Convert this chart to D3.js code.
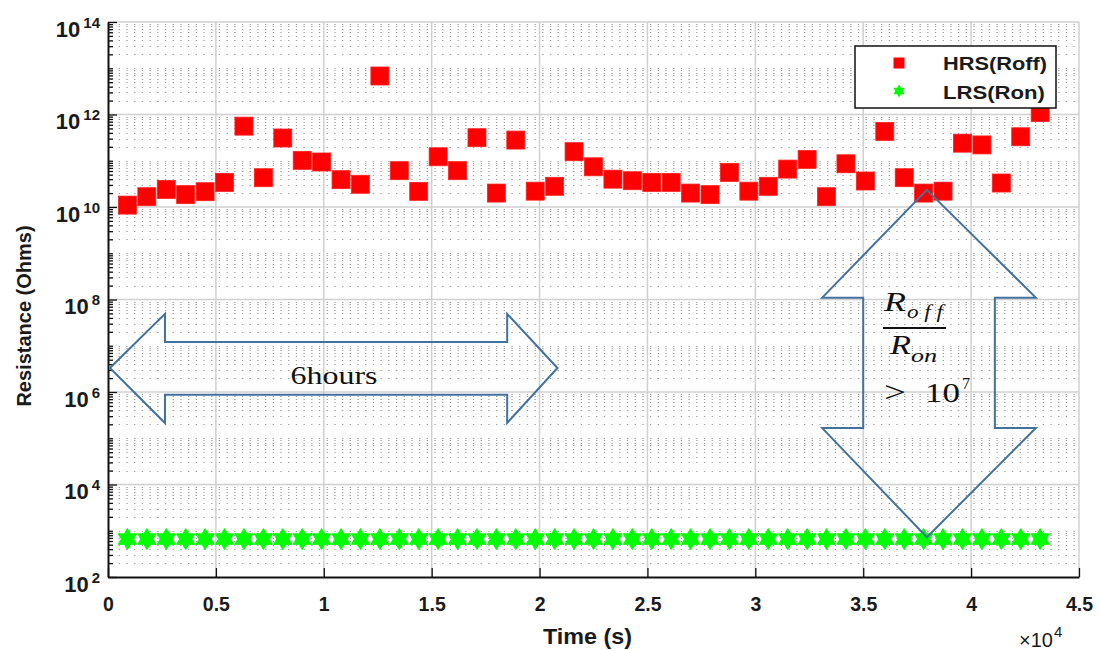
<!DOCTYPE html>
<html>
<head>
<meta charset="utf-8">
<script src="https://cdn.jsdelivr.net/npm/d3@7"></script>
<style>
  body { margin: 0; background: #fff; }
  svg { display: block; }
</style>
</head>
<body>
<svg></svg>
<script>
// time of each read-out (s)
const times = [900, 1800, 2700, 3600, 4500, 5400, 6300, 7200, 8100, 9000, 9900, 10800,
  11700, 12600, 13500, 14400, 15300, 16200, 17100, 18000, 18900, 19800, 20700, 21600,
  22500, 23400, 24300, 25200, 26100, 27000, 27900, 28800, 29700, 30600, 31500, 32400,
  33300, 34200, 35100, 36000, 36900, 37800, 38700, 39600, 40500, 41400, 42300, 43200];

// HRS (Roff) resistance, Ohms
const hrs = [1.1e10, 1.67e10, 2.4e10, 1.85e10, 2.14e10, 3.4e10, 5.6e11, 4.3e10, 3.1e11, 1.02e11, 9.4e10, 3.9e10,
  3.1e10, 6.8e12, 6.1e10, 2.18e10, 1.22e11, 6.1e10, 3.15e11, 2.0e10, 2.8e11, 2.2e10, 2.8e10, 1.57e11,
  7.4e10, 4.0e10, 3.7e10, 3.4e10, 3.4e10, 2.0e10, 1.85e10, 5.6e10, 2.2e10, 2.8e10, 6.6e10, 1.07e11,
  1.67e10, 8.6e10, 3.65e10, 4.3e11, 4.3e10, 2.0e10, 2.2e10, 2.4e11, 2.2e11, 3.3e10, 3.3e11, 1.1e12];

// LRS (Ron) resistance, Ohms
const lrs = [660, 660, 660, 660, 660, 660, 660, 660, 660, 660, 660, 660,
  660, 660, 660, 660, 660, 660, 660, 660, 660, 660, 660, 660,
  660, 660, 660, 660, 660, 660, 660, 660, 660, 660, 660, 660,
  660, 660, 660, 660, 660, 660, 660, 660, 660, 660, 660, 660];

const seriesNames = ["HRS(Roff)", "LRS(Ron)"];

const xTicks = [0, 5000, 10000, 15000, 20000, 25000, 30000, 35000, 40000, 45000];
const xTickLabels = ["0", "0.5", "1", "1.5", "2", "2.5", "3", "3.5", "4", "4.5"];
const yTicks = [1e2, 1e4, 1e6, 1e8, 1e10, 1e12, 1e14];
const yTickExps = ["2", "4", "6", "8", "10", "12", "14"];

const width = 1100;
const height = 650;
const margin = { top: 22, right: 21, bottom: 73, left: 108 };

const svg = d3.select("svg").attr("width", width).attr("height", height);

const xScale = d3.scaleLinear()
  .domain([0, 45000])
  .range([margin.left, width - margin.right]);

const yScale = d3.scaleLog()
  .domain([1e2, 1e14])
  .range([height - margin.bottom, margin.top]);

// minor log positions: 2..9 x 10^n, plus the odd decades
const minorY = [];
for (let n = 2; n < 14; n++) {
  for (let k = 1; k < 10; k++) {
    if (k === 1 && n % 2 === 0) continue;
    minorY.push(k * Math.pow(10, n));
  }
}

// grid
const grid = svg.append("g");
grid.selectAll(".minor")
  .data(minorY)
  .enter()
  .append("line")
  .attr("x1", xScale(0) + 3)
  .attr("x2", xScale(45000))
  .attr("y1", (d) => Math.round(yScale(d)) + 0.5)
  .attr("y2", (d) => Math.round(yScale(d)) + 0.5)
  .attr("stroke", "#9c9c9c")
  .attr("stroke-width", 1)
  .attr("stroke-dasharray", "1.3,6.4");

grid.selectAll(".hmaj")
  .data(yTicks.slice(1))
  .enter()
  .append("line")
  .attr("x1", xScale(0))
  .attr("x2", xScale(45000))
  .attr("y1", (d) => yScale(d))
  .attr("y2", (d) => yScale(d))
  .attr("stroke", "#d0d0d0")
  .attr("stroke-width", 1.5);

grid.selectAll(".vmaj")
  .data(xTicks.slice(1))
  .enter()
  .append("line")
  .attr("x1", (d) => xScale(d))
  .attr("x2", (d) => xScale(d))
  .attr("y1", yScale(1e14))
  .attr("y2", yScale(1e2))
  .attr("stroke", "#d0d0d0")
  .attr("stroke-width", 1.5);

// axes
const xAxis = d3.axisBottom(xScale)
  .tickValues(xTicks)
  .tickFormat((d, i) => xTickLabels[i])
  .tickSizeInner(-9)
  .tickSizeOuter(0);

const xAxisGroup = svg.append("g")
  .attr("transform", "translate(0," + yScale(1e2) + ")")
  .call(xAxis);
xAxisGroup.selectAll(".tick text")
  .attr("y", 34)
  .attr("dy", 0)
  .style("font-family", "'Liberation Sans', Arial, sans-serif")
  .style("font-weight", "bold")
  .style("font-size", "19.5px")
  .attr("fill", "#1a1a1a");

const yMinorAxis = d3.axisLeft(yScale)
  .tickValues(minorY)
  .tickFormat("")
  .tickSizeInner(-5)
  .tickSizeOuter(0);
svg.append("g")
  .attr("transform", "translate(" + xScale(0) + ",0)")
  .call(yMinorAxis)
  .select(".domain").remove();

const yAxis = d3.axisLeft(yScale)
  .tickValues(yTicks)
  .tickFormat("")
  .tickSizeInner(-9)
  .tickSizeOuter(0);
const yAxisGroup = svg.append("g")
  .attr("transform", "translate(" + xScale(0) + ",0)")
  .call(yAxis);

svg.selectAll(".domain").attr("stroke-width", 2).attr("stroke", "#111");
svg.selectAll(".tick line").attr("stroke", "#111").attr("stroke-width", 1.3);

const yLabels = yAxisGroup.selectAll(".tick")
  .append("text")
  .attr("x", -8)
  .attr("y", 14)
  .attr("text-anchor", "end")
  .attr("fill", "#1a1a1a")
  .style("font-family", "'Liberation Sans', Arial, sans-serif")
  .style("font-weight", "bold");
yLabels.append("tspan").style("font-size", "22px").text("10");
yLabels.append("tspan")
  .attr("dy", -9)
  .attr("dx", 3)
  .style("font-size", "15px")
  .text((d, i) => yTickExps[i]);

// axis titles
svg.append("text")
  .attr("x", (xScale(0) + xScale(45000)) / 2 - 6)
  .attr("y", 644)
  .attr("text-anchor", "middle")
  .attr("textLength", 89)
  .attr("lengthAdjust", "spacingAndGlyphs")
  .attr("fill", "#1a1a1a")
  .style("font-family", "'Liberation Sans', Arial, sans-serif")
  .style("font-weight", "bold")
  .style("font-size", "22px")
  .text("Time (s)");

const expo = svg.append("text")
  .attr("x", 1019)
  .attr("y", 647)
  .attr("fill", "#1a1a1a")
  .style("font-family", "'Liberation Sans', Arial, sans-serif")
  .style("font-size", "20px");
expo.append("tspan").text("\u00d710");
expo.append("tspan").attr("dy", -10).attr("dx", 1).style("font-size", "15px").text("4");

svg.append("text")
  .attr("transform", "translate(31,316) rotate(-90)")
  .attr("text-anchor", "middle")
  .attr("fill", "#1a1a1a")
  .style("font-family", "'Liberation Sans', Arial, sans-serif")
  .style("font-weight", "bold")
  .style("font-size", "20px")
  .text("Resistance (Ohms)");

// six-pointed star marker
const hexagram = {
  draw(context, size) {
    const R = Math.sqrt(size);
    const r = R / Math.sqrt(3);
    for (let i = 0; i < 12; i++) {
      const a = -Math.PI / 2 + i * Math.PI / 6;
      const rad = i % 2 ? r : R;
      const px = rad * Math.cos(a);
      const py = rad * Math.sin(a);
      if (i === 0) context.moveTo(px, py);
      else context.lineTo(px, py);
    }
    context.closePath();
  }
};

// LRS stars
svg.append("g")
  .selectAll("path")
  .data(lrs)
  .enter()
  .append("path")
  .attr("d", d3.symbol().type(hexagram).size(110))
  .attr("transform", (d, i) => "translate(" + xScale(times[i]) + "," + yScale(d) + ")")
  .attr("fill", "#00ff00")
  .attr("stroke", "#00ff00")
  .attr("stroke-width", 1);

// HRS squares
const sq = 18;
svg.append("g")
  .selectAll("rect")
  .data(hrs)
  .enter()
  .append("rect")
  .attr("x", (d, i) => xScale(times[i]) - sq / 2)
  .attr("y", (d) => yScale(d) - sq / 2)
  .attr("width", sq)
  .attr("height", sq)
  .attr("fill", "#ff0000")
  .attr("stroke", "#ff2020")
  .attr("stroke-width", 0.8);

// legend
const legend = svg.append("g").attr("transform", "translate(855,46)");
legend.append("rect")
  .attr("width", 201)
  .attr("height", 62)
  .attr("fill", "#fff")
  .attr("stroke", "#111")
  .attr("stroke-width", 1.5);
legend.append("rect")
  .attr("x", 44 - 5.5)
  .attr("y", 17 - 5.5)
  .attr("width", 11)
  .attr("height", 11)
  .attr("fill", "#ff0000");
legend.append("path")
  .attr("d", d3.symbol().type(hexagram).size(42))
  .attr("transform", "translate(44,45)")
  .attr("fill", "#00ff00");
legend.selectAll("text")
  .data(seriesNames)
  .enter()
  .append("text")
  .attr("x", 88)
  .attr("y", (d, i) => 24 + i * 29)
  .attr("textLength", (d, i) => (i === 0 ? 104 : 102))
  .attr("lengthAdjust", "spacingAndGlyphs")
  .attr("fill", "#1a1a1a")
  .style("font-family", "'Liberation Sans', Arial, sans-serif")
  .style("font-weight", "bold")
  .style("font-size", "18px")
  .text((d) => d);

// annotation arrows (time, log10 R)
const hArrow = [[90, 6.52], [2640, 7.69], [2640, 7.08], [18500, 7.08], [18500, 7.69], [20830, 6.52],
  [18500, 5.33], [18500, 5.94], [2640, 5.94], [2640, 5.33]];
const vArrow = [[37950, 10.37], [43000, 8.04], [41100, 8.04], [41100, 5.22], [43000, 5.22], [37950, 2.86],
  [33100, 5.22], [35000, 5.22], [35000, 8.04], [33100, 8.04]];

const arrowLine = d3.line()
  .x((d) => xScale(d[0]))
  .y((d) => yScale(Math.pow(10, d[1])));

[hArrow, vArrow].forEach((pts) => {
  svg.append("path")
    .attr("d", arrowLine(pts) + "Z")
    .attr("fill", "none")
    .attr("stroke", "#41719c")
    .attr("stroke-width", 2)
    .attr("stroke-linejoin", "miter");
});

svg.append("text")
  .attr("x", 334)
  .attr("y", 384)
  .attr("text-anchor", "middle")
  .attr("textLength", 87)
  .attr("lengthAdjust", "spacingAndGlyphs")
  .attr("fill", "#111")
  .style("font-family", "'Liberation Serif', 'Times New Roman', serif")
  .style("font-size", "26px")
  .text("6hours");

// Roff / Ron > 10^7
const serif = "'Liberation Serif', 'Times New Roman', serif";
const note = svg.append("g").attr("fill", "#111").style("font-family", serif);
note.append("text").attr("x", 884).attr("y", 311).attr("textLength", 22)
  .attr("lengthAdjust", "spacingAndGlyphs")
  .style("font-style", "italic").style("font-size", "27px").text("R");
note.append("text").attr("x", 907).attr("y", 318).attr("textLength", 36)
  .attr("lengthAdjust", "spacingAndGlyphs")
  .style("font-style", "italic").style("font-size", "19px").text("o f f");
note.append("line")
  .attr("x1", 883).attr("x2", 946)
  .attr("y1", 328).attr("y2", 328)
  .attr("stroke", "#111").attr("stroke-width", 2);
note.append("text").attr("x", 890).attr("y", 354).attr("textLength", 21)
  .attr("lengthAdjust", "spacingAndGlyphs")
  .style("font-style", "italic").style("font-size", "27px").text("R");
note.append("text").attr("x", 911).attr("y", 362).attr("textLength", 26)
  .attr("lengthAdjust", "spacingAndGlyphs")
  .style("font-style", "italic").style("font-size", "19px").text("on");
note.append("text").attr("x", 884).attr("y", 402).attr("textLength", 22)
  .attr("lengthAdjust", "spacingAndGlyphs")
  .style("font-size", "30px").text(">");
note.append("text").attr("x", 925).attr("y", 402).attr("textLength", 35)
  .attr("lengthAdjust", "spacingAndGlyphs")
  .style("font-size", "28px").text("10");
note.append("text").attr("x", 962).attr("y", 389)
  .style("font-size", "16px").text("7");
</script>
</body>
</html>
